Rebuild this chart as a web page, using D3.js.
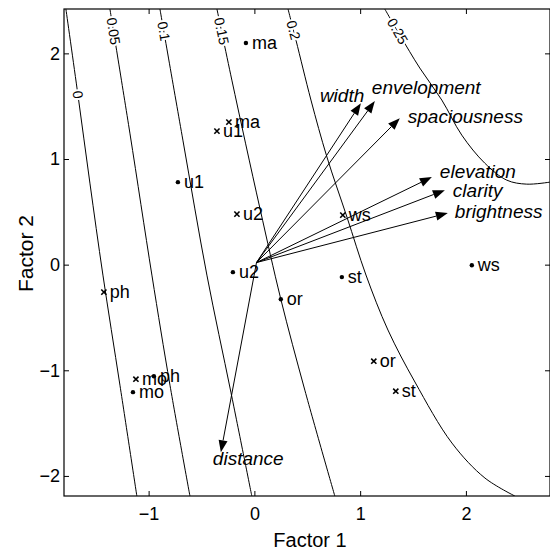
<!DOCTYPE html>
<html>
<head>
<meta charset="utf-8">
<script src="https://cdn.jsdelivr.net/npm/d3@7"></script>
<style>
  body { margin: 0; background: #fff; }
  svg text { font-family: "Liberation Sans", Arial, Helvetica, sans-serif; fill: #000; }
</style>
</head>
<body>
<svg id="chart" width="550" height="550"></svg>
<script>
// Factor scores for each item: "dot" set and "cross" set
const itemNames  = ["ma", "u1", "u2", "or", "st", "ws", "ph", "mo"];
const dotF1      = [-0.080, -0.723, -0.203, 0.250, 0.827, 2.056, -0.950, -1.148];
const dotF2      = [ 2.098,  0.781, -0.071, -0.327, -0.118, -0.005, -1.056, -1.207];
const crossF1    = [-0.241, -0.354, -0.165, 1.129, 1.337, 0.836, -1.423, -1.120];
const crossF2    = [ 1.349,  1.264,  0.478, -0.914, -1.198, 0.469, -0.260, -1.084];

// Attribute loading vectors
const attrNames  = ["width", "envelopment", "spaciousness", "elevation", "clarity", "brightness", "distance"];
const attrF1     = [1.007, 1.139, 1.375, 1.678, 1.801, 1.829, -0.317];
const attrF2     = [1.529, 1.548, 1.387, 0.829, 0.705, 0.488, -1.776];
const vecOrigin  = [0.02, 0.02];

// Preference contour levels and their traced lines (Factor 1, Factor 2)
const contourLevels = [0, 0.05, 0.1, 0.15, 0.2, 0.25];
const contour0   = [[-1.782, 2.42], [-1.668, 1.605], [-1.555, 0.772], [-1.432, -0.099], [-1.271, -1.141], [-1.111, -2.192]];
const contour005 = [[-1.366, 2.42], [-1.177, 1.245], [-0.969, -0.099], [-0.798, -1.141], [-0.609, -2.192]];
const contour010 = [[-0.893, 2.42], [-0.676, 1.179], [-0.449, -0.099], [-0.222, -1.207], [-0.024, -2.192]];
const contour015 = [[-0.354, 2.42], [-0.213, 1.747], [0.052, 0.535], [0.250, -0.327], [0.477, -1.188], [0.761, -2.192]];
const contour020 = [[0.318, 2.42], [0.393, 2.126], [0.535, 1.558], [0.686, 1.019], [0.875, 0.451], [1.055, -0.098],
                    [1.263, -0.619], [1.518, -1.111], [1.868, -1.689], [2.180, -2.020], [2.464, -2.191]];
const contour025 = [[1.233, 2.42], [1.375, 2.174], [1.564, 1.861], [1.772, 1.558], [1.961, 1.226], [2.178, 0.961],
                    [2.386, 0.800], [2.575, 0.762], [2.793, 0.781]];
const contourLines = [contour0, contour005, contour010, contour015, contour020, contour025];

// Axis ticks
const xTicks = [-1, 0, 1, 2];
const yTicks = [-2, -1, 0, 1, 2];

const svg = d3.select("#chart");
const plotL = 64, plotT = 9, plotR = 550, plotB = 496;

const x = d3.scaleLinear().domain([-1.8, 2.795]).range([plotL, plotR]);
const y = d3.scaleLinear().domain([-2.19, 2.42]).range([plotB, plotT]);

const fmt = d => d < 0 ? "\u2212" + Math.abs(d) : String(d);

svg.append("defs").append("clipPath").attr("id", "plotClip")
  .append("rect").attr("x", plotL).attr("y", plotT).attr("width", plotR - plotL).attr("height", plotB - plotT);

const plot = svg.append("g").attr("clip-path", "url(#plotClip)");

// Contour lines
const line = d3.line().x(d => x(d[0])).y(d => y(d[1])).curve(d3.curveCatmullRom.alpha(0.5));
plot.selectAll("path.contour").data(contourLines).join("path")
  .attr("class", "contour")
  .attr("d", line)
  .attr("fill", "none").attr("stroke", "#000").attr("stroke-width", 1);

// Contour labels, placed on each line at a chosen height and rotated along it
const labelAtF2 = [1.61, 2.21, 2.21, 2.21, 2.22, 2.21];
function pointOnLine(pts, v) {
  for (let i = 0; i < pts.length - 1; i++) {
    const a = pts[i], b = pts[i + 1];
    if ((a[1] - v) * (b[1] - v) <= 0) {
      const t = (v - a[1]) / (b[1] - a[1]);
      const px = x(a[0] + t * (b[0] - a[0])), py = y(v);
      const ang = Math.atan2(y(b[1]) - y(a[1]), x(b[0]) - x(a[0])) * 180 / Math.PI;
      return [px, py, ang];
    }
  }
  return [x(pts[0][0]), y(pts[0][1]), 90];
}
contourLevels.forEach((lv, i) => {
  const [px, py, ang] = pointOnLine(contourLines[i], labelAtF2[i]);
  plot.append("text")
    .attr("transform", `translate(${px},${py}) rotate(${ang})`)
    .attr("text-anchor", "middle").attr("dy", "0.35em")
    .attr("font-size", 14)
    .attr("stroke", "#fff").attr("stroke-width", 4).attr("paint-order", "stroke")
    .text(String(lv));
});

// Attribute vectors with filled arrowheads
const ox = x(vecOrigin[0]), oy = y(vecOrigin[1]);
const headLen = 12, headHalf = 4.5;
attrNames.forEach((name, i) => {
  const tx = x(attrF1[i]), ty = y(attrF2[i]);
  const dx = tx - ox, dy = ty - oy, len = Math.hypot(dx, dy);
  const ux = dx / len, uy = dy / len;
  const bx = tx - ux * headLen, by = ty - uy * headLen;
  plot.append("line").attr("x1", ox).attr("y1", oy).attr("x2", bx).attr("y2", by)
    .attr("stroke", "#000").attr("stroke-width", 1);
  plot.append("path")
    .attr("d", `M${tx},${ty}L${bx - uy * headHalf},${by + ux * headHalf}L${bx + uy * headHalf},${by - ux * headHalf}Z`)
    .attr("fill", "#000");
});

// Attribute names near the arrow tips
const attrLabelShift = {
  width: [-41, -1], envelopment: [-3, -7], spaciousness: [8, 5],
  elevation: [8, 1], clarity: [8, 7], brightness: [7, 5], distance: [-8, 13]
};
attrNames.forEach((name, i) => {
  const s = attrLabelShift[name];
  svg.append("text")
    .attr("x", x(attrF1[i]) + s[0]).attr("y", y(attrF2[i]) + s[1])
    .attr("font-size", 19).attr("font-style", "italic")
    .text(name);
});

// Item markers: dots and crosses, each with its name
const g = svg.append("g");
itemNames.forEach((name, i) => {
  const px = x(dotF1[i]), py = y(dotF2[i]);
  g.append("circle").attr("cx", px).attr("cy", py).attr("r", 2.2).attr("fill", "#000");
  g.append("text").attr("x", px + 6).attr("y", py + 6).attr("font-size", 18).text(name);
});
itemNames.forEach((name, i) => {
  const px = x(crossF1[i]), py = y(crossF2[i]), c = 2.6;
  g.append("path").attr("d", `M${px - c},${py - c}L${px + c},${py + c}M${px - c},${py + c}L${px + c},${py - c}`)
    .attr("stroke", "#000").attr("stroke-width", 1.6);
  g.append("text").attr("x", px + 6).attr("y", py + 6).attr("font-size", 18).text(name);
});

// Axes: ticks point inward on all four sides, labels on bottom and left
const ax = svg.append("g");
ax.append("g").attr("transform", `translate(0,${plotB})`)
  .call(d3.axisBottom(x).tickValues(xTicks).tickFormat(fmt).tickSizeInner(-5).tickSizeOuter(0).tickPadding(11));
ax.append("g").attr("transform", `translate(${plotL},0)`)
  .call(d3.axisLeft(y).tickValues(yTicks).tickFormat(fmt).tickSizeInner(-5).tickSizeOuter(0).tickPadding(4));
ax.append("g").attr("transform", `translate(0,${plotT})`)
  .call(d3.axisTop(x).tickValues(xTicks).tickFormat("").tickSizeInner(-5).tickSizeOuter(0));
ax.append("g").attr("transform", `translate(${plotR},0)`)
  .call(d3.axisRight(y).tickValues(yTicks).tickFormat("").tickSizeInner(-5).tickSizeOuter(0));
ax.selectAll(".domain").remove();
ax.selectAll(".tick line").attr("stroke", "#000");
ax.selectAll(".tick text").attr("font-size", 18).attr("font-family", "Liberation Sans, Arial, sans-serif").attr("fill", "#000");

svg.append("rect").attr("x", plotL).attr("y", plotT).attr("width", plotR - plotL).attr("height", plotB - plotT)
  .attr("fill", "none").attr("stroke", "#000").attr("stroke-width", 1.2);

// Axis titles
svg.append("text").attr("x", (plotL + plotR) / 2 + 3).attr("y", 547)
  .attr("text-anchor", "middle").attr("font-size", 20).text("Factor 1");
svg.append("text").attr("transform", `translate(33,${(plotT + plotB) / 2 + 1}) rotate(-90)`)
  .attr("text-anchor", "middle").attr("font-size", 21).text("Factor 2");
</script>
</body>
</html>
